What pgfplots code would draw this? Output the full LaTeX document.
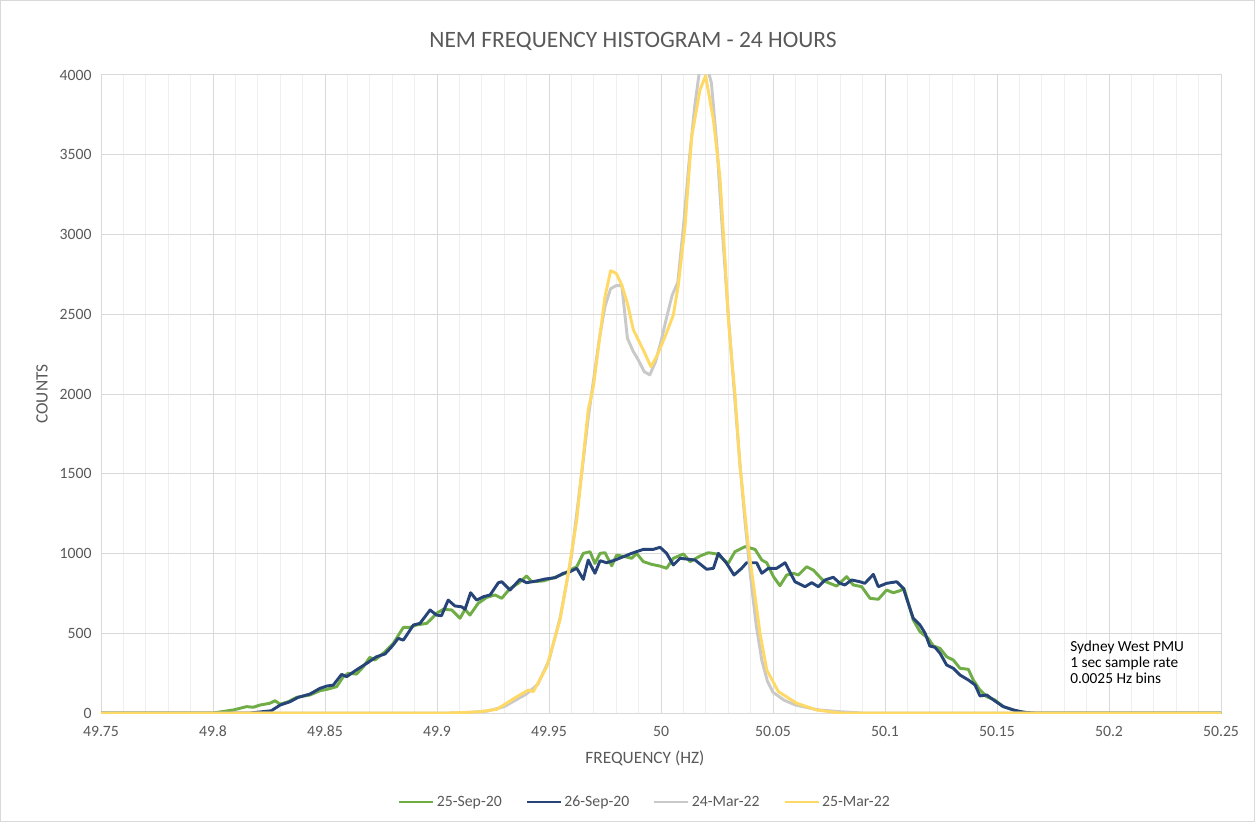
\documentclass[border=0pt]{standalone}
\usepackage{pgfplots}
\pgfplotsset{compat=1.18}
\usepackage{fontspec}
\setmainfont{Carlito}
\definecolor{cgreen}{HTML}{70AD47}
\definecolor{cblue}{HTML}{264478}
\definecolor{cgray}{HTML}{C9C9C9}
\definecolor{cyellow}{HTML}{FFD966}
\definecolor{ctext}{HTML}{595959}
\definecolor{cmajor}{HTML}{D9D9D9}
\definecolor{cminor}{HTML}{EFEFEF}

\pgfplotstableread{
x y
49.75 0
49.80 0
49.809 19
49.815 40
49.818 36
49.821 50
49.8254 61
49.8277 77
49.8299 55
49.8336 71
49.8373 98
49.8433 113
49.8478 140
49.8508 148
49.8552 165
49.8582 228
49.8604 249
49.8641 244
49.8671 290
49.870 349
49.8723 332
49.8768 384
49.8805 437
49.885 537
49.8879 537
49.8909 552
49.8954 562
49.8975 590
49.8998 625
49.9028 650
49.9066 646
49.9103 594
49.9125 650
49.9147 614
49.9184 688
49.9222 725
49.9259 740
49.9289 719
49.9326 781
49.9363 813
49.94 859
49.9423 823
49.9475 828
49.9527 851
49.9564 871
49.9601 901
49.9624 917
49.9653 1001
49.9683 1011
49.9705 938
49.9728 1001
49.975 1005
49.978 923
49.9802 990
49.984 980
49.9869 970
49.9891 1001
49.9921 949
49.9958 932
49.9996 921
50.0025 907
50.0055 970
50.01 997
50.013 949
50.0174 984
50.0211 1005
50.0249 997
50.03 938
50.033 1011
50.0375 1043
50.042 1026
50.045 959
50.0472 942
50.0502 855
50.0531 798
50.0561 865
50.0591 876
50.0613 865
50.065 917
50.068 896
50.0725 829
50.0754 813
50.0784 796
50.0829 855
50.0858 803
50.0896 792
50.0933 719
50.097 713
50.1007 771
50.1037 754
50.1067 767
50.1085 781
50.1126 583
50.1156 510
50.1193 468
50.1216 420
50.1246 405
50.1275 353
50.1305 332
50.1335 280
50.1372 274
50.1394 207
50.1424 144
50.1454 102
50.149 82
50.1528 40
50.159 12
50.165 0
50.25 0
}\greentab

\pgfplotstableread{
x y
49.75 0
49.8165 0
49.826 14
49.83 50
49.8344 71
49.838 98
49.8433 119
49.8478 155
49.8508 169
49.8537 175
49.8574 242
49.8597 228
49.864 270
49.8686 311
49.873 353
49.8768 370
49.8798 416
49.8827 468
49.885 457
49.8895 552
49.8924 562
49.8969 646
49.8998 614
49.902 610
49.905 708
49.908 671
49.911 666
49.9125 650
49.915 754
49.9177 708
49.9207 729
49.9237 740
49.9274 817
49.9289 823
49.9326 771
49.937 838
49.94 817
49.9445 828
49.9482 840
49.9527 848
49.9564 876
49.9594 886
49.9624 907
49.9653 838
49.9675 959
49.9705 876
49.9728 955
49.9757 942
49.9795 959
49.9832 980
49.9869 1001
49.9921 1026
49.9966 1026
49.9996 1039
50.0025 1001
50.0055 928
50.0085 970
50.0152 959
50.0204 901
50.0234 907
50.0256 1001
50.0293 938
50.0326 865
50.036 907
50.0382 942
50.0427 942
50.045 876
50.0479 907
50.0516 907
50.0554 942
50.0598 823
50.0643 792
50.0673 817
50.0702 792
50.0732 834
50.0769 851
50.0799 813
50.0821 803
50.0851 834
50.0888 823
50.091 813
50.0948 869
50.097 792
50.1007 813
50.1052 823
50.1082 781
50.1126 594
50.1156 552
50.1179 500
50.12 420
50.1223 412
50.1246 374
50.1275 301
50.1305 280
50.1335 238
50.1372 207
50.1402 176
50.1424 107
50.1454 113
50.1484 82
50.1528 40
50.1573 19
50.162 4
50.167 0
50.25 0
}\bluetab

\pgfplotstableread{
x y
49.75 0
49.905 0
49.915 4
49.9225 12
49.93 40
49.935 80
49.94 120
49.945 180
49.95 330
49.955 600
49.96 980
49.965 1550
49.9675 1850
49.97 2100
49.9725 2350
49.975 2550
49.9775 2660
49.98 2680
49.9825 2680
49.985 2350
49.9875 2270
49.99 2210
49.9925 2140
49.995 2120
49.9975 2200
50.0 2330
50.0025 2480
50.005 2620
50.0075 2700
50.01 3050
50.0125 3450
50.015 3800
50.0175 4060
50.02 4080
50.0225 3950
50.025 3550
50.0275 3000
50.03 2500
50.0325 2050
50.035 1600
50.0375 1200
50.04 850
50.0425 550
50.045 330
50.0475 200
50.05 130
50.055 80
50.06 50
50.065 35
50.07 20
50.08 8
50.09 0
50.25 0
}\graytab

\pgfplotstableread{
x y
49.75 0
49.905 0
49.912 3
49.919 8
49.9266 23
49.931 61
49.9356 102
49.9408 144
49.943 134
49.949 290
49.9549 583
49.9586 876
49.9624 1210
49.9675 1900
49.9698 2046
49.975 2610
49.9775 2773
49.980 2757
49.9825 2683
49.985 2568
49.9877 2401
49.9921 2276
49.9955 2171
49.998 2234
50.0018 2359
50.0055 2495
50.0077 2680
50.0107 3049
50.0137 3613
50.0174 3906
50.0199 3996
50.0234 3718
50.0263 3362
50.0286 2840
50.0301 2464
50.0316 2213
50.033 2004
50.0353 1544
50.039 1043
50.0442 500
50.0472 270
50.0524 134
50.0606 61
50.0695 19
50.08 0
50.25 0
}\yellowtab

\begin{document}
\begin{tikzpicture}
\useasboundingbox (0pt,0pt) rectangle (941.25pt,616.5pt);
\draw[cmajor, line width=0.75pt] (0.4pt,0.4pt) rectangle (940.85pt,616.1pt);
\begin{axis}[
  at={(75.75pt,81.75pt)}, anchor=south west,
  scale only axis, width=840pt, height=478.5pt,
  xmin=49.75, xmax=50.25, ymin=0, ymax=4000,
  xtick={49.75,49.8,49.85,49.9,49.95,50,50.05,50.1,50.15,50.2,50.25},
  xticklabels={49.75,49.8,49.85,49.9,49.95,50,50.05,50.1,50.15,50.2,50.25},
  minor xtick={49.76,49.77,49.78,49.79,49.81,49.82,49.83,49.84,49.86,49.87,49.88,49.89,49.91,49.92,49.93,49.94,49.96,49.97,49.98,49.99,50.01,50.02,50.03,50.04,50.06,50.07,50.08,50.09,50.11,50.12,50.13,50.14,50.16,50.17,50.18,50.19,50.21,50.22,50.23,50.24},
  ytick={0,500,1000,1500,2000,2500,3000,3500,4000},
  yticklabels={0,500,1000,1500,2000,2500,3000,3500,4000},
  grid=both,
  major grid style={draw=cmajor, line width=0.75pt},
  minor grid style={draw=cminor, line width=0.75pt},
  axis line style={draw=cmajor, line width=0.75pt},
  tick style={draw=none},
  ticklabel style={font=\fontsize{11.8}{13}\selectfont, text=ctext},
  xticklabel style={anchor=center, yshift=-13.5pt},
  yticklabel style={xshift=-3.5pt},
  xlabel={FREQUENCY (HZ)},
  ylabel={COUNTS},
  label style={font=\fontsize{13}{15}\selectfont, text=ctext},
  xlabel style={at={(axis description cs:0.4857,-0.0705)}, anchor=center},
  ylabel style={at={(axis description cs:-0.0527,0.5)}, anchor=center},
  clip=true,
  legend columns=4,
  legend style={at={(axis description cs:0.486,-0.1395)}, anchor=center, draw=none, fill=none,
    font=\fontsize{11.8}{13}\selectfont, text=ctext,
    /tikz/every even column/.append style={column sep=16pt}},
  legend image code/.code={\draw[#1, line width=1.5pt] (0pt,0pt) -- (25.5pt,0pt);},
  every axis plot/.append style={line width=2.2pt, line join=round, mark=none},
]
\addplot[cgreen] table[x=x,y=y] {\greentab};
\addlegendentry{25-Sep-20}
\addplot[cblue] table[x=x,y=y] {\bluetab};
\addlegendentry{26-Sep-20}
\addplot[cgray] table[x=x,y=y] {\graytab};
\addlegendentry{24-Mar-22}
\addplot[cyellow] table[x=x,y=y] {\yellowtab};
\addlegendentry{25-Mar-22}
\node[anchor=north west, align=left, font=\fontsize{11.5}{12}\selectfont, text=black, inner sep=0pt] at (axis cs:50.1826,457) {Sydney West PMU\\1 sec sample rate\\0.0025 Hz bins};
\end{axis}
\node[font=\fontsize{17.6}{20}\selectfont, text=ctext] at (474.75pt,585.75pt) {NEM FREQUENCY HISTOGRAM - 24 HOURS};
\end{tikzpicture}
\end{document}
